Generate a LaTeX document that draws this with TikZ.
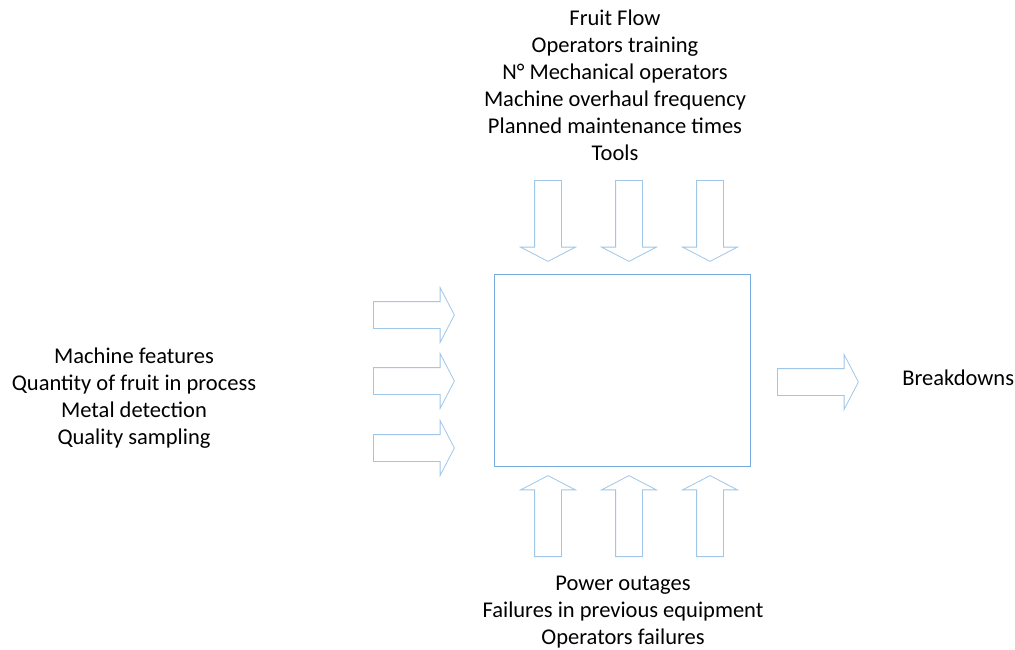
\documentclass[tikz,border=0pt]{standalone}
\usepackage{fontspec}
\setmainfont{Carlito}
\usetikzlibrary{shapes.arrows,positioning}
\definecolor{boxblue}{RGB}{120,172,222}
\definecolor{arrowblue}{RGB}{160,198,232}

\begin{document}
\begin{tikzpicture}[x=1pt,y=-1pt,
	flow/.style={single arrow,draw=arrowblue,fill=white,line width=0.8pt,inner sep=13pt,minimum height=81pt,single arrow head extend=14pt,single arrow tip angle=125},
	txt/.style={align=center,font=\fontsize{22.5}{27}\selectfont}]
\useasboundingbox (0,0) rectangle (1015,649);

\node[draw=boxblue,line width=0.8pt,minimum width=256pt,minimum height=192pt,inner sep=0pt] at (622,370) (box) {};

% inputs from the left
\foreach \y/\n in {315/1,381/2,448/3}
	\node[flow,anchor=tail] at (373,\y) (in\n) {};

% controls from above
\foreach \x/\n in {548/1,629/2,710/3}
	\node[flow,anchor=tail,shape border rotate=270] at (\x,180) (ctl\n) {};

% mechanisms from below
\foreach \x/\n in {548/1,629/2,710/3}
	\node[flow,anchor=tail,shape border rotate=90] at (\x,557) (mec\n) {};

% output
\node[flow,anchor=tail] at (777,382) (out) {};

\node[txt] at (615,85) (ctltxt) {Fruit Flow\\Operators training\\N° Mechanical operators\\Machine overhaul frequency\\Planned maintenance times\\Tools};
\node[txt] at (134,398) (intxt) {Machine features\\Quantity of fruit in process\\Metal detection\\Quality sampling};
\node[txt] at (623,612) (mectxt) {Power outages\\Failures in previous equipment\\Operators failures};
\node[txt,right=40pt of out.tip,yshift=4pt] (outtxt) {Breakdowns};
\end{tikzpicture}
\end{document}
